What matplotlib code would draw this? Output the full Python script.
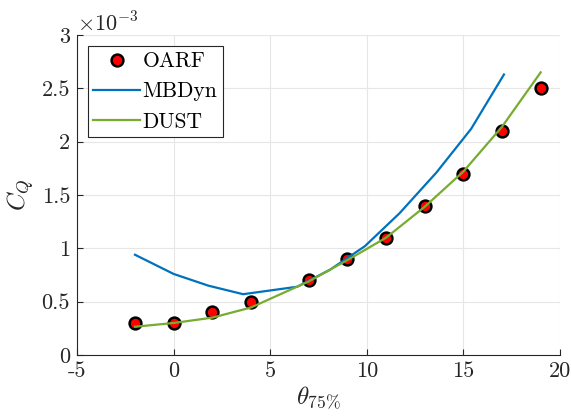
import matplotlib
matplotlib.use("Agg")
import matplotlib.pyplot as plt

# Data (C_Q in units of 1e-3)
oarf_theta = [-2, 0, 2, 4, 7, 9, 11, 13, 15, 17, 19]
oarf_cq = [0.30, 0.30, 0.40, 0.50, 0.70, 0.90, 1.10, 1.40, 1.70, 2.10, 2.50]

mbdyn_theta = [-2, 0, 1.8, 3.6, 6.4, 8.1, 9.9, 11.7, 13.6, 15.4, 17.1]
mbdyn_cq = [0.94, 0.76, 0.65, 0.57, 0.64, 0.80, 1.02, 1.33, 1.71, 2.12, 2.63]

dust_theta = [-2, 0, 2, 4, 7, 9, 11, 13, 15, 17, 19]
dust_cq = [0.265, 0.30, 0.35, 0.445, 0.69, 0.89, 1.10, 1.39, 1.72, 2.14, 2.65]

xticks = [-5, 0, 5, 10, 15, 20]
xticklabels = ['-5', '0', '5', '10', '15', '20']
yticks = [0, 0.5, 1, 1.5, 2, 2.5, 3]
yticklabels = ['0', '0.5', '1', '1.5', '2', '2.5', '3']

plt.rcParams['font.family'] = 'serif'
plt.rcParams['font.serif'] = ['cmr10', 'DejaVu Serif']
plt.rcParams['mathtext.fontset'] = 'cm'
plt.rcParams['axes.unicode_minus'] = False

fig = plt.figure(figsize=(5.71, 4.18), dpi=100)
ax = fig.add_axes([77/571, 63/418, 483/571, 320/418])

axcol = '#262626'
ax.plot(oarf_theta, oarf_cq, 'o', ls='none', markersize=8.5, markerfacecolor='#ff0000',
        markeredgecolor='black', markeredgewidth=1.8, label='OARF', zorder=3)
ax.plot(mbdyn_theta, mbdyn_cq, '-', color='#0072BD', lw=1.6, label='MBDyn', zorder=4)
ax.plot(dust_theta, dust_cq, '-', color='#77AC30', lw=1.6, label='DUST', zorder=5)

ax.set_xlim(-5, 20)
ax.set_ylim(0, 3)
ax.set_xticks(xticks)
ax.set_xticklabels(xticklabels)
ax.set_yticks(yticks)
ax.set_yticklabels(yticklabels)
ax.tick_params(direction='in', length=4, width=0.8, colors=axcol, labelsize=16,
               labelcolor='#262626', pad=5)
ax.grid(True, color='#e6e6e6', lw=0.8)
ax.set_axisbelow(True)
for s in ['top', 'right']:
    ax.spines[s].set_visible(False)
for s in ['left', 'bottom']:
    ax.spines[s].set_color(axcol)
    ax.spines[s].set_linewidth(0.8)

ax.set_xlabel(r'$\theta_{75\%}$', fontsize=18, color='#262626', labelpad=2)
ax.set_ylabel(r'$C_Q$', fontsize=18, color='#262626', labelpad=4)
ax.text(0.0, 1.0, r'$\times 10^{-3}$', transform=ax.transAxes, fontsize=16,
        color='#262626', ha='left', va='bottom')

leg = ax.legend(loc='upper left', bbox_to_anchor=(0.022, 0.965), fontsize=15.5,
                frameon=True, fancybox=False, edgecolor='#262626', framealpha=1,
                handlelength=2.2, handletextpad=0.1, borderpad=0.25, labelspacing=0.5,
                borderaxespad=0)
leg.get_frame().set_linewidth(0.8)

fig.savefig('out.png', dpi=100)
